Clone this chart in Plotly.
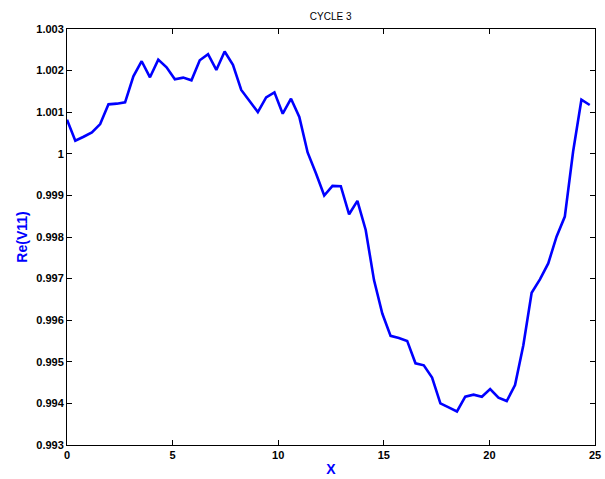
import plotly.graph_objects as go

x_vals = [0.000, 0.393, 0.786, 1.179, 1.571, 1.964, 2.357, 2.750, 3.143, 3.536,
          3.929, 4.321, 4.714, 5.107, 5.500, 5.893, 6.286, 6.679, 7.071, 7.464,
          7.857, 8.250, 8.643, 9.036, 9.429, 9.821, 10.214, 10.607, 11.000, 11.393,
          11.786, 12.179, 12.571, 12.964, 13.357, 13.750, 14.143, 14.536, 14.929, 15.321,
          15.714, 16.107, 16.500, 16.893, 17.286, 17.679, 18.071, 18.464, 18.857, 19.250,
          19.643, 20.036, 20.429, 20.821, 21.214, 21.607, 22.000, 22.393, 22.786, 23.179,
          23.571, 23.964, 24.357, 24.750]

re_v11 = [1.000819, 1.000313, 1.000410, 1.000514, 1.000715, 1.001189, 1.001205, 1.001237,
          1.001863, 1.002225, 1.001839, 1.002265, 1.002080, 1.001791, 1.001831, 1.001767,
          1.002249, 1.002394, 1.002016, 1.002458, 1.002137, 1.001534, 1.001269, 1.001004,
          1.001357, 1.001478, 1.000964, 1.001325, 1.000884, 1.000032, 0.999534, 0.998996,
          0.999229, 0.999221, 0.998546, 0.998867, 0.998169, 0.996964, 0.996161, 0.995623,
          0.995574, 0.995502, 0.994964, 0.994916, 0.994619, 0.994000, 0.993904, 0.993807,
          0.994161, 0.994209, 0.994161, 0.994345, 0.994137, 0.994056, 0.994442, 0.995398,
          0.996659, 0.996983, 0.997365, 0.998008, 0.998490, 1.000056, 1.001301, 1.001173]

x_ticks = [0, 5, 10, 15, 20, 25]
y_ticks = [0.993, 0.994, 0.995, 0.996, 0.997, 0.998, 0.999, 1.000, 1.001, 1.002, 1.003]
y_tick_text = ["0.993", "0.994", "0.995", "0.996", "0.997", "0.998", "0.999", "1",
               "1.001", "1.002", "1.003"]

fig = go.Figure()
fig.add_trace(go.Scatter(x=x_vals, y=re_v11, mode="lines",
                         line=dict(color="#0000ff", width=2.6), showlegend=False))

font_family = "Liberation Sans, Arial, sans-serif"
axis_common = dict(showline=True, linecolor="black", linewidth=1, mirror="allticks",
                   ticks="inside", ticklen=5, tickcolor="black", showgrid=False,
                   zeroline=False, automargin=False,
                   tickfont=dict(family=font_family, size=11, color="black", weight="bold"))

fig.update_layout(
    width=605, height=479,
    margin=dict(l=67, r=10, t=29, b=34),
    paper_bgcolor="white", plot_bgcolor="white",
    title=dict(text="CYCLE 3", x=0.5465, xanchor="center", y=0.966, yanchor="middle",
               font=dict(family=font_family, size=10, color="black")),
    xaxis=dict(range=[0, 25], tickvals=x_ticks, ticktext=[str(t) for t in x_ticks],
               title=dict(text="X", standoff=3,
                          font=dict(family=font_family, size=14, color="#0000ff", weight="bold")),
               **axis_common),
    yaxis=dict(range=[0.993, 1.003], tickvals=y_ticks, ticktext=y_tick_text,
               title=dict(text="Re(V11)", standoff=5,
                          font=dict(family=font_family, size=14, color="#0000ff", weight="bold")),
               **axis_common),
)

fig.write_html("out.html", config={"displayModeBar": False},
               post_script="document.body.style.margin='0';document.body.style.overflow='hidden';")
